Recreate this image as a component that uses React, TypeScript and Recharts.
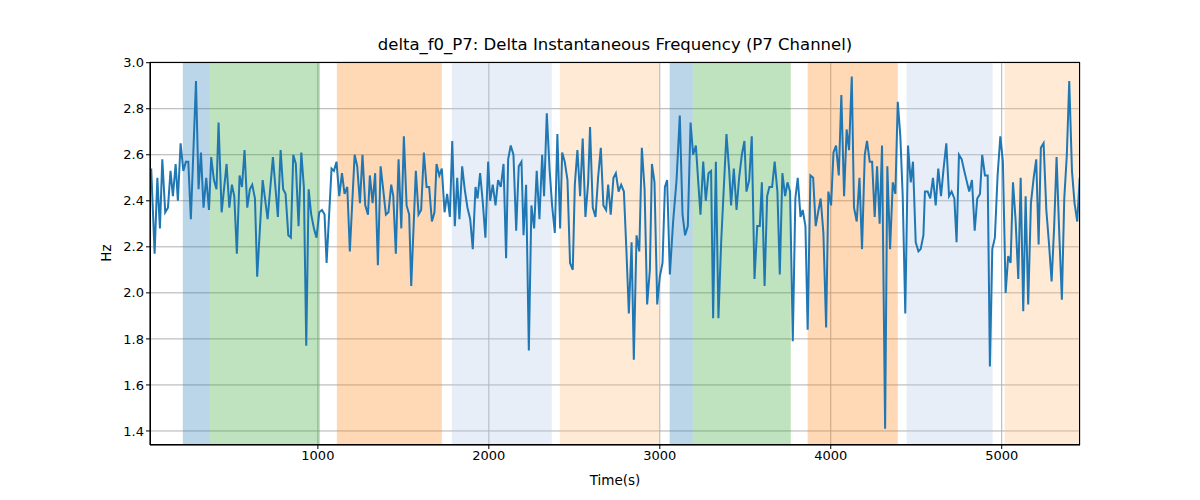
import { LineChart, Line, XAxis, YAxis, CartesianGrid, ReferenceArea } from "recharts"

const times = [
  25, 45, 61, 76, 90, 107, 123, 138, 152, 168, 181, 197, 213, 228, 242, 257, 287, 302, 316, 331, 347, 363, 376, 392, 407, 419, 437, 466, 482, 497, 511, 526, 542, 556, 571, 587, 602, 616, 632, 645, 677, 706, 737, 766, 782, 797, 811, 827, 842, 856, 871, 887, 903, 918, 932,
  946, 961, 977, 992, 1008, 1024, 1039, 1051, 1080, 1094, 1109, 1125, 1141, 1156, 1172, 1187, 1215, 1230, 1246, 1261, 1277, 1293, 1304, 1320, 1335, 1351, 1367, 1382, 1398, 1413, 1429, 1441, 1456, 1472, 1488, 1503, 1519, 1534, 1546, 1573, 1589, 1604, 1620, 1636, 1651, 1667, 1682, 1694, 1710, 1725, 1741, 1756, 1772, 1786, 1801, 1815,
  1828, 1844, 1859, 1875, 1891, 1906, 1922, 1934, 1949, 1965, 1980, 1996, 2008, 2023, 2039, 2054, 2070, 2086, 2101, 2113, 2128, 2144, 2160, 2175, 2191, 2203, 2218, 2234, 2249, 2265, 2280, 2296, 2312, 2323, 2339, 2355, 2370, 2386, 2401, 2417, 2429, 2444, 2460, 2475, 2491, 2503, 2518, 2534, 2549, 2565, 2581, 2592, 2608, 2624, 2639, 2655, 2670, 2686, 2698, 2713, 2729,
  2743, 2759, 2774, 2790, 2805, 2819, 2835, 2848, 2864, 2880, 2895, 2911, 2926, 2942, 2954, 2969, 2985, 3000, 3016, 3030, 3043, 3059, 3078, 3098, 3117, 3133, 3148, 3164, 3180, 3195, 3211, 3226, 3238, 3254, 3269, 3285, 3300, 3312, 3328, 3343, 3359, 3374, 3390, 3406, 3417, 3433, 3449, 3464, 3480, 3495, 3507, 3523, 3538, 3554, 3570, 3585, 3597, 3613, 3628,
  3641, 3657, 3672, 3688, 3702, 3717, 3733, 3747, 3762, 3778, 3793, 3807, 3823, 3836, 3852, 3865, 3881, 3897, 3912, 3926, 3941, 3957, 3973, 3986, 4002, 4016, 4031, 4047, 4062, 4078, 4093, 4107, 4123, 4136, 4152, 4168, 4183, 4199, 4212, 4228, 4242, 4257, 4271, 4286, 4300, 4318, 4331, 4347, 4363, 4378, 4392, 4407, 4421, 4436, 4452, 4468, 4481, 4497, 4513, 4526, 4542,
  4551, 4567, 4582, 4598, 4614, 4629, 4645, 4660, 4676, 4692, 4707, 4723, 4736, 4750, 4766, 4781, 4797, 4810, 4826, 4842, 4857, 4873, 4886, 4902, 4918, 4931, 4945, 4960, 4976, 4992, 5007, 5023, 5038, 5052, 5066, 5081, 5097, 5111, 5126, 5140, 5155, 5171, 5187, 5202, 5216, 5229, 5245, 5261, 5276, 5292, 5307, 5321, 5337, 5352, 5366, 5381, 5395, 5411, 5426, 5442, 5456,
]

const hz = [
  2.54, 2.17, 2.5, 2.28, 2.58, 2.35, 2.37, 2.53, 2.42, 2.56, 2.4, 2.65, 2.53, 2.57, 2.57, 2.32, 2.92, 2.45, 2.61, 2.37, 2.5, 2.36, 2.59, 2.49, 2.45, 2.74, 2.35, 2.56, 2.37, 2.47, 2.42, 2.17, 2.51, 2.46, 2.62, 2.37, 2.45, 2.47, 2.41, 2.07, 2.49, 2.32, 2.59, 2.33, 2.62, 2.45, 2.43, 2.25, 2.24, 2.6, 2.56, 2.29, 2.61, 2.46, 1.77,
  2.45, 2.34, 2.28, 2.24, 2.35, 2.36, 2.34, 2.13, 2.54, 2.53, 2.57, 2.42, 2.52, 2.43, 2.46, 2.18, 2.6, 2.55, 2.39, 2.6, 2.38, 2.34, 2.51, 2.39, 2.52, 2.12, 2.55, 2.45, 2.34, 2.35, 2.47, 2.42, 2.17, 2.58, 2.28, 2.68, 2.38, 2.34, 2.03, 2.53, 2.34, 2.36, 2.61, 2.46, 2.46, 2.31, 2.35, 2.56, 2.51, 2.54, 2.35, 2.43, 2.33, 2.66, 2.29, 2.5,
  2.32, 2.55, 2.45, 2.37, 2.32, 2.19, 2.46, 2.41, 2.52, 2.39, 2.24, 2.57, 2.4, 2.47, 2.38, 2.49, 2.46, 2.56, 2.15, 2.58, 2.64, 2.6, 2.27, 2.55, 2.57, 2.25, 2.47, 1.75, 2.38, 2.28, 2.53, 2.32, 2.6, 2.42, 2.78, 2.54, 2.38, 2.26, 2.69, 2.28, 2.61, 2.57, 2.49, 2.13, 2.1, 2.47, 2.62, 2.42, 2.67, 2.33, 2.48, 2.72, 2.37, 2.33, 2.5, 2.63, 2.38, 2.36, 2.47, 2.34, 2.5,
  2.52, 2.44, 2.47, 2.44, 2.18, 1.91, 2.22, 1.71, 2.25, 2.18, 2.63, 2.45, 1.95, 2.1, 2.56, 2.48, 1.95, 2.07, 2.13, 2.46, 2.49, 2.08, 2.31, 2.49, 2.77, 2.34, 2.25, 2.29, 2.74, 2.6, 2.64, 2.47, 2.34, 2.57, 2.4, 2.52, 2.53, 1.89, 2.57, 1.89, 2.22, 2.45, 2.69, 2.53, 2.38, 2.54, 2.36, 2.5, 2.6, 2.66, 2.44, 2.49, 2.68, 2.06, 2.29, 2.29, 2.48, 2.03, 2.42,
  2.46, 2.46, 2.57, 2.44, 2.08, 2.52, 2.42, 2.48, 2.44, 1.79, 2.41, 2.5, 2.33, 2.36, 2.29, 1.84, 2.51, 2.5, 2.29, 2.35, 2.41, 2.26, 1.85, 2.44, 2.38, 2.61, 2.64, 2.51, 2.86, 2.42, 2.71, 2.62, 2.94, 2.37, 2.31, 2.5, 2.19, 2.6, 2.66, 2.57, 2.57, 2.33, 2.55, 2.3, 2.64, 1.41, 2.55, 2.19, 2.48, 2.43, 2.83, 2.68, 2.42, 1.91, 2.64, 2.48, 2.57, 2.22, 2.18, 2.19, 2.25,
  2.44, 2.44, 2.41, 2.5, 2.38, 2.54, 2.42, 2.54, 2.65, 2.42, 2.44, 2.41, 2.22, 2.6, 2.58, 2.53, 2.48, 2.44, 2.49, 2.27, 2.41, 2.43, 2.6, 2.51, 2.51, 1.68, 2.19, 2.24, 2.51, 2.68, 2.57, 2.0, 2.16, 2.13, 2.48, 2.32, 2.06, 2.5, 1.92, 2.42, 1.95, 2.39, 2.5, 2.58, 2.21, 2.63, 2.65, 2.36, 2.22, 2.05, 2.29, 2.59, 2.25, 1.97, 2.41, 2.6, 2.92, 2.53, 2.39, 2.31, 2.5,
]

const bands = [
  { from: 210, to: 368, color: "#1f77b4", opacity: 0.3 },
  { from: 368, to: 1012, color: "#2ca02c", opacity: 0.3 },
  { from: 1111, to: 1725, color: "#ff7f0e", opacity: 0.3 },
  { from: 1784, to: 2368, color: "#aec7e8", opacity: 0.3 },
  { from: 2415, to: 3000, color: "#ffbb78", opacity: 0.3 },
  { from: 3058, to: 3193, color: "#1f77b4", opacity: 0.3 },
  { from: 3193, to: 3766, color: "#2ca02c", opacity: 0.3 },
  { from: 3865, to: 4392, color: "#ff7f0e", opacity: 0.3 },
  { from: 4444, to: 4947, color: "#aec7e8", opacity: 0.3 },
  { from: 5017, to: 5470, color: "#ffbb78", opacity: 0.3 },
]

const xTicks = [1000, 2000, 3000, 4000, 5000]
const yTicks = [1.4, 1.6, 1.8, 2.0, 2.2, 2.4, 2.6, 2.8, 3.0]

const data = times.map((t, i) => ({ t, v: hz[i] }))

export default function App() {
  const font = "DejaVu Sans, sans-serif"
  return (
    <div style={{ position: "absolute", left: 0, top: 0, width: 1200, height: 500, background: "#fff", fontFamily: font }}>
      <div style={{ position: "absolute", top: 35, left: 150, width: 930, textAlign: "center", fontSize: 16.5, color: "#000" }}>
        delta_f0_P7: Delta Instantaneous Frequency (P7 Channel)
      </div>
      <div style={{ position: "absolute", top: 472, left: 150, width: 930, textAlign: "center", fontSize: 13.5 }}>Time(s)</div>
      <div style={{ position: "absolute", top: 253, left: 106, fontSize: 13.5, transform: "translate(-50%, -50%) rotate(-90deg)" }}>Hz</div>
      <LineChart width={1200} height={500} data={data} margin={{ top: 62, right: 120, bottom: 25, left: 100 }}>
        {bands.map((b, i) => (
          <ReferenceArea key={i} x1={b.from} x2={b.to} fill={b.color} fillOpacity={b.opacity} stroke="none" ifOverflow="hidden" />
        ))}
        <CartesianGrid stroke="#b0b0b0" strokeWidth={1} />
        <XAxis dataKey="t" type="number" domain={[18, 5458]} ticks={xTicks} allowDataOverflow
          height={30} tick={{ fill: "#000", fontSize: 13, fontFamily: font }} tickLine={{ stroke: "#000" }} axisLine={{ stroke: "#000" }} tickSize={4} />
        <YAxis type="number" domain={[1.339, 3.003]} ticks={yTicks} allowDataOverflow width={50}
          tickFormatter={(v: number) => v.toFixed(1)}
          tick={{ fill: "#000", fontSize: 13, fontFamily: font }} tickLine={{ stroke: "#000" }} axisLine={{ stroke: "#000" }} tickSize={4} />
        <Line type="linear" dataKey="v" stroke="#1f77b4" strokeWidth={2} dot={false} isAnimationActive={false} />
      </LineChart>
      <div style={{ position: "absolute", left: 150, top: 62, width: 930, height: 383, border: "1px solid #000", boxSizing: "border-box", pointerEvents: "none" }} />
    </div>
  )
}
